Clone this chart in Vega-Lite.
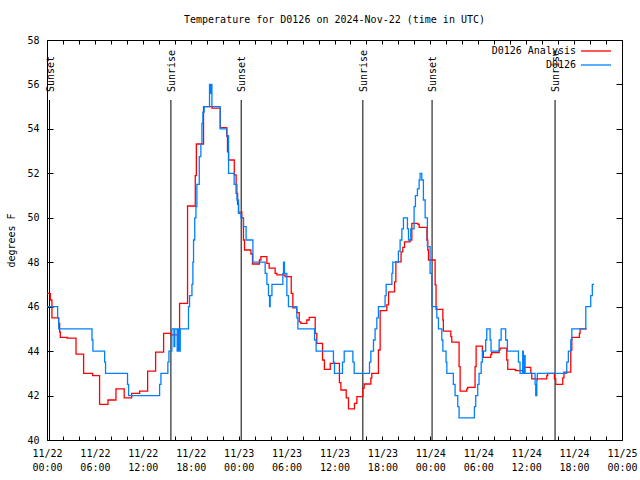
{
  "$schema": "https://vega.github.io/schema/vega-lite/v6.json",
  "width": 575,
  "height": 400,
  "autosize": {"type": "none"},
  "padding": {"left": 47, "top": 40, "right": 18, "bottom": 40},
  "background": "white",
  "title": {"text": "Temperature for D0126 on 2024-Nov-22 (time in UTC)", "font": "DejaVu Sans Mono", "fontSize": 10, "fontWeight": "normal", "color": "black", "offset": 10},
  "config": {
    "view": {"stroke": "black", "strokeWidth": 1},
    "axis": {"domain": false, "grid": false, "labelFont": "DejaVu Sans Mono", "labelFontSize": 10, "labelColor": "black", "tickColor": "black", "tickWidth": 1, "titleFont": "DejaVu Sans Mono", "titleFontSize": 10, "titleFontWeight": "normal", "titleColor": "black"}
  },
  "datasets": {
    "sun": [
      {"t": "2024-11-22T00:19:00Z", "label": "Sunset"},
      {"t": "2024-11-22T15:31:00Z", "label": "Sunrise"},
      {"t": "2024-11-23T00:19:00Z", "label": "Sunset"},
      {"t": "2024-11-23T15:33:00Z", "label": "Sunrise"},
      {"t": "2024-11-24T00:13:00Z", "label": "Sunset"},
      {"t": "2024-11-24T15:37:00Z", "label": "Sunrise"}
    ],
    "temps": [
      {"t": "2024-11-22T00:00:00Z", "v": 46.6, "s": "D0126 Analysis"},
      {"t": "2024-11-22T00:25:00Z", "v": 46.3, "s": "D0126 Analysis"},
      {"t": "2024-11-22T00:37:00Z", "v": 45.5, "s": "D0126 Analysis"},
      {"t": "2024-11-22T01:27:00Z", "v": 45.25, "s": "D0126 Analysis"},
      {"t": "2024-11-22T01:35:00Z", "v": 44.85, "s": "D0126 Analysis"},
      {"t": "2024-11-22T01:40:00Z", "v": 44.62, "s": "D0126 Analysis"},
      {"t": "2024-11-22T02:30:00Z", "v": 44.58, "s": "D0126 Analysis"},
      {"t": "2024-11-22T03:38:00Z", "v": 43.86, "s": "D0126 Analysis"},
      {"t": "2024-11-22T04:35:00Z", "v": 43.0, "s": "D0126 Analysis"},
      {"t": "2024-11-22T05:43:00Z", "v": 42.9, "s": "D0126 Analysis"},
      {"t": "2024-11-22T06:35:00Z", "v": 41.6, "s": "D0126 Analysis"},
      {"t": "2024-11-22T07:38:00Z", "v": 41.8, "s": "D0126 Analysis"},
      {"t": "2024-11-22T08:38:00Z", "v": 42.3, "s": "D0126 Analysis"},
      {"t": "2024-11-22T09:40:00Z", "v": 41.9, "s": "D0126 Analysis"},
      {"t": "2024-11-22T10:36:00Z", "v": 42.1, "s": "D0126 Analysis"},
      {"t": "2024-11-22T11:36:00Z", "v": 42.2, "s": "D0126 Analysis"},
      {"t": "2024-11-22T12:36:00Z", "v": 43.1, "s": "D0126 Analysis"},
      {"t": "2024-11-22T13:36:00Z", "v": 43.95, "s": "D0126 Analysis"},
      {"t": "2024-11-22T14:36:00Z", "v": 44.8, "s": "D0126 Analysis"},
      {"t": "2024-11-22T15:30:00Z", "v": 44.73, "s": "D0126 Analysis"},
      {"t": "2024-11-22T16:36:00Z", "v": 46.15, "s": "D0126 Analysis"},
      {"t": "2024-11-22T17:36:00Z", "v": 50.53, "s": "D0126 Analysis"},
      {"t": "2024-11-22T18:34:00Z", "v": 51.9, "s": "D0126 Analysis"},
      {"t": "2024-11-22T18:42:00Z", "v": 53.32, "s": "D0126 Analysis"},
      {"t": "2024-11-22T19:36:00Z", "v": 55.0, "s": "D0126 Analysis"},
      {"t": "2024-11-22T20:39:00Z", "v": 54.93, "s": "D0126 Analysis"},
      {"t": "2024-11-22T21:42:00Z", "v": 54.06, "s": "D0126 Analysis"},
      {"t": "2024-11-22T22:30:00Z", "v": 53.68, "s": "D0126 Analysis"},
      {"t": "2024-11-22T22:36:00Z", "v": 52.97, "s": "D0126 Analysis"},
      {"t": "2024-11-22T22:44:00Z", "v": 52.6, "s": "D0126 Analysis"},
      {"t": "2024-11-22T23:27:00Z", "v": 51.93, "s": "D0126 Analysis"},
      {"t": "2024-11-22T23:41:00Z", "v": 51.1, "s": "D0126 Analysis"},
      {"t": "2024-11-22T23:52:00Z", "v": 50.6, "s": "D0126 Analysis"},
      {"t": "2024-11-22T23:59:00Z", "v": 50.25, "s": "D0126 Analysis"},
      {"t": "2024-11-23T00:24:00Z", "v": 50.0, "s": "D0126 Analysis"},
      {"t": "2024-11-23T00:36:00Z", "v": 49.0, "s": "D0126 Analysis"},
      {"t": "2024-11-23T00:44:00Z", "v": 48.55, "s": "D0126 Analysis"},
      {"t": "2024-11-23T01:32:00Z", "v": 48.37, "s": "D0126 Analysis"},
      {"t": "2024-11-23T01:44:00Z", "v": 47.92, "s": "D0126 Analysis"},
      {"t": "2024-11-23T02:36:00Z", "v": 48.1, "s": "D0126 Analysis"},
      {"t": "2024-11-23T02:47:00Z", "v": 48.25, "s": "D0126 Analysis"},
      {"t": "2024-11-23T03:32:00Z", "v": 47.95, "s": "D0126 Analysis"},
      {"t": "2024-11-23T03:49:00Z", "v": 47.73, "s": "D0126 Analysis"},
      {"t": "2024-11-23T04:34:00Z", "v": 47.5, "s": "D0126 Analysis"},
      {"t": "2024-11-23T04:47:00Z", "v": 47.43, "s": "D0126 Analysis"},
      {"t": "2024-11-23T05:49:00Z", "v": 47.35, "s": "D0126 Analysis"},
      {"t": "2024-11-23T06:35:00Z", "v": 46.6, "s": "D0126 Analysis"},
      {"t": "2024-11-23T06:47:00Z", "v": 45.95, "s": "D0126 Analysis"},
      {"t": "2024-11-23T07:17:00Z", "v": 45.73, "s": "D0126 Analysis"},
      {"t": "2024-11-23T07:35:00Z", "v": 45.32, "s": "D0126 Analysis"},
      {"t": "2024-11-23T07:47:00Z", "v": 45.25, "s": "D0126 Analysis"},
      {"t": "2024-11-23T08:32:00Z", "v": 45.4, "s": "D0126 Analysis"},
      {"t": "2024-11-23T08:50:00Z", "v": 45.52, "s": "D0126 Analysis"},
      {"t": "2024-11-23T09:35:00Z", "v": 44.8, "s": "D0126 Analysis"},
      {"t": "2024-11-23T09:47:00Z", "v": 44.35, "s": "D0126 Analysis"},
      {"t": "2024-11-23T10:30:00Z", "v": 43.6, "s": "D0126 Analysis"},
      {"t": "2024-11-23T10:44:00Z", "v": 43.18, "s": "D0126 Analysis"},
      {"t": "2024-11-23T11:28:00Z", "v": 43.45, "s": "D0126 Analysis"},
      {"t": "2024-11-23T12:37:00Z", "v": 42.58, "s": "D0126 Analysis"},
      {"t": "2024-11-23T12:48:00Z", "v": 42.25, "s": "D0126 Analysis"},
      {"t": "2024-11-23T13:28:00Z", "v": 41.9, "s": "D0126 Analysis"},
      {"t": "2024-11-23T13:45:00Z", "v": 41.4, "s": "D0126 Analysis"},
      {"t": "2024-11-23T14:30:00Z", "v": 41.65, "s": "D0126 Analysis"},
      {"t": "2024-11-23T14:48:00Z", "v": 41.95, "s": "D0126 Analysis"},
      {"t": "2024-11-23T15:33:00Z", "v": 42.33, "s": "D0126 Analysis"},
      {"t": "2024-11-23T15:43:00Z", "v": 42.52, "s": "D0126 Analysis"},
      {"t": "2024-11-23T16:33:00Z", "v": 42.78, "s": "D0126 Analysis"},
      {"t": "2024-11-23T16:40:00Z", "v": 43.0, "s": "D0126 Analysis"},
      {"t": "2024-11-23T17:30:00Z", "v": 44.05, "s": "D0126 Analysis"},
      {"t": "2024-11-23T17:43:00Z", "v": 45.82, "s": "D0126 Analysis"},
      {"t": "2024-11-23T18:33:00Z", "v": 46.08, "s": "D0126 Analysis"},
      {"t": "2024-11-23T18:46:00Z", "v": 46.67, "s": "D0126 Analysis"},
      {"t": "2024-11-23T19:31:00Z", "v": 47.12, "s": "D0126 Analysis"},
      {"t": "2024-11-23T19:41:00Z", "v": 48.02, "s": "D0126 Analysis"},
      {"t": "2024-11-23T20:20:00Z", "v": 48.47, "s": "D0126 Analysis"},
      {"t": "2024-11-23T20:33:00Z", "v": 48.67, "s": "D0126 Analysis"},
      {"t": "2024-11-23T20:46:00Z", "v": 48.92, "s": "D0126 Analysis"},
      {"t": "2024-11-23T21:28:00Z", "v": 49.0, "s": "D0126 Analysis"},
      {"t": "2024-11-23T21:41:00Z", "v": 49.75, "s": "D0126 Analysis"},
      {"t": "2024-11-23T22:26:00Z", "v": 49.7, "s": "D0126 Analysis"},
      {"t": "2024-11-23T22:36:00Z", "v": 49.57, "s": "D0126 Analysis"},
      {"t": "2024-11-23T23:34:00Z", "v": 49.0, "s": "D0126 Analysis"},
      {"t": "2024-11-23T23:41:00Z", "v": 48.55, "s": "D0126 Analysis"},
      {"t": "2024-11-23T23:46:00Z", "v": 48.1, "s": "D0126 Analysis"},
      {"t": "2024-11-24T00:36:00Z", "v": 46.98, "s": "D0126 Analysis"},
      {"t": "2024-11-24T00:43:00Z", "v": 45.88, "s": "D0126 Analysis"},
      {"t": "2024-11-24T01:34:00Z", "v": 45.4, "s": "D0126 Analysis"},
      {"t": "2024-11-24T01:38:00Z", "v": 44.9, "s": "D0126 Analysis"},
      {"t": "2024-11-24T02:34:00Z", "v": 44.65, "s": "D0126 Analysis"},
      {"t": "2024-11-24T02:41:00Z", "v": 44.4, "s": "D0126 Analysis"},
      {"t": "2024-11-24T03:36:00Z", "v": 43.3, "s": "D0126 Analysis"},
      {"t": "2024-11-24T03:44:00Z", "v": 42.2, "s": "D0126 Analysis"},
      {"t": "2024-11-24T04:34:00Z", "v": 42.3, "s": "D0126 Analysis"},
      {"t": "2024-11-24T04:41:00Z", "v": 42.37, "s": "D0126 Analysis"},
      {"t": "2024-11-24T05:36:00Z", "v": 43.3, "s": "D0126 Analysis"},
      {"t": "2024-11-24T05:44:00Z", "v": 44.22, "s": "D0126 Analysis"},
      {"t": "2024-11-24T06:31:00Z", "v": 44.0, "s": "D0126 Analysis"},
      {"t": "2024-11-24T06:38:00Z", "v": 43.72, "s": "D0126 Analysis"},
      {"t": "2024-11-24T07:34:00Z", "v": 43.85, "s": "D0126 Analysis"},
      {"t": "2024-11-24T07:41:00Z", "v": 43.93, "s": "D0126 Analysis"},
      {"t": "2024-11-24T08:37:00Z", "v": 44.05, "s": "D0126 Analysis"},
      {"t": "2024-11-24T08:44:00Z", "v": 44.13, "s": "D0126 Analysis"},
      {"t": "2024-11-24T09:34:00Z", "v": 43.6, "s": "D0126 Analysis"},
      {"t": "2024-11-24T09:42:00Z", "v": 43.18, "s": "D0126 Analysis"},
      {"t": "2024-11-24T10:37:00Z", "v": 43.15, "s": "D0126 Analysis"},
      {"t": "2024-11-24T10:44:00Z", "v": 43.12, "s": "D0126 Analysis"},
      {"t": "2024-11-24T11:39:00Z", "v": 43.2, "s": "D0126 Analysis"},
      {"t": "2024-11-24T11:44:00Z", "v": 43.27, "s": "D0126 Analysis"},
      {"t": "2024-11-24T12:35:00Z", "v": 43.0, "s": "D0126 Analysis"},
      {"t": "2024-11-24T12:42:00Z", "v": 42.75, "s": "D0126 Analysis"},
      {"t": "2024-11-24T14:35:00Z", "v": 42.9, "s": "D0126 Analysis"},
      {"t": "2024-11-24T14:42:00Z", "v": 43.0, "s": "D0126 Analysis"},
      {"t": "2024-11-24T15:32:00Z", "v": 42.75, "s": "D0126 Analysis"},
      {"t": "2024-11-24T15:42:00Z", "v": 42.5, "s": "D0126 Analysis"},
      {"t": "2024-11-24T16:35:00Z", "v": 42.8, "s": "D0126 Analysis"},
      {"t": "2024-11-24T16:44:00Z", "v": 43.05, "s": "D0126 Analysis"},
      {"t": "2024-11-24T17:35:00Z", "v": 44.05, "s": "D0126 Analysis"},
      {"t": "2024-11-24T17:43:00Z", "v": 44.62, "s": "D0126 Analysis"},
      {"t": "2024-11-24T18:40:00Z", "v": 44.8, "s": "D0126 Analysis"},
      {"t": "2024-11-24T18:45:00Z", "v": 45.0, "s": "D0126 Analysis"},
      {"t": "2024-11-24T19:35:00Z", "v": 45.0, "s": "D0126 Analysis"},
      {"t": "2024-11-22T00:00:00Z", "v": 46.0, "s": "D0126"},
      {"t": "2024-11-22T01:20:00Z", "v": 45.5, "s": "D0126"},
      {"t": "2024-11-22T01:28:00Z", "v": 45.0, "s": "D0126"},
      {"t": "2024-11-22T05:38:00Z", "v": 44.5, "s": "D0126"},
      {"t": "2024-11-22T05:45:00Z", "v": 44.0, "s": "D0126"},
      {"t": "2024-11-22T07:13:00Z", "v": 43.5, "s": "D0126"},
      {"t": "2024-11-22T07:20:00Z", "v": 43.0, "s": "D0126"},
      {"t": "2024-11-22T10:05:00Z", "v": 42.5, "s": "D0126"},
      {"t": "2024-11-22T10:13:00Z", "v": 42.0, "s": "D0126"},
      {"t": "2024-11-22T14:06:00Z", "v": 42.5, "s": "D0126"},
      {"t": "2024-11-22T14:16:00Z", "v": 43.0, "s": "D0126"},
      {"t": "2024-11-22T15:08:00Z", "v": 43.5, "s": "D0126"},
      {"t": "2024-11-22T15:16:00Z", "v": 44.0, "s": "D0126"},
      {"t": "2024-11-22T15:38:00Z", "v": 45.0, "s": "D0126"},
      {"t": "2024-11-22T15:54:00Z", "v": 44.2, "s": "D0126"},
      {"t": "2024-11-22T16:00:00Z", "v": 45.0, "s": "D0126"},
      {"t": "2024-11-22T16:18:00Z", "v": 44.0, "s": "D0126"},
      {"t": "2024-11-22T16:27:00Z", "v": 45.0, "s": "D0126"},
      {"t": "2024-11-22T16:36:00Z", "v": 44.0, "s": "D0126"},
      {"t": "2024-11-22T16:41:00Z", "v": 45.0, "s": "D0126"},
      {"t": "2024-11-22T17:43:00Z", "v": 46.0, "s": "D0126"},
      {"t": "2024-11-22T17:51:00Z", "v": 46.5, "s": "D0126"},
      {"t": "2024-11-22T18:09:00Z", "v": 47.0, "s": "D0126"},
      {"t": "2024-11-22T18:16:00Z", "v": 48.0, "s": "D0126"},
      {"t": "2024-11-22T18:21:00Z", "v": 49.0, "s": "D0126"},
      {"t": "2024-11-22T18:30:00Z", "v": 50.0, "s": "D0126"},
      {"t": "2024-11-22T18:39:00Z", "v": 50.5, "s": "D0126"},
      {"t": "2024-11-22T18:46:00Z", "v": 51.5, "s": "D0126"},
      {"t": "2024-11-22T19:04:00Z", "v": 52.75, "s": "D0126"},
      {"t": "2024-11-22T19:16:00Z", "v": 53.3, "s": "D0126"},
      {"t": "2024-11-22T19:24:00Z", "v": 54.25, "s": "D0126"},
      {"t": "2024-11-22T19:31:00Z", "v": 54.75, "s": "D0126"},
      {"t": "2024-11-22T19:41:00Z", "v": 55.0, "s": "D0126"},
      {"t": "2024-11-22T20:21:00Z", "v": 56.0, "s": "D0126"},
      {"t": "2024-11-22T20:27:00Z", "v": 55.6, "s": "D0126"},
      {"t": "2024-11-22T20:30:00Z", "v": 56.0, "s": "D0126"},
      {"t": "2024-11-22T20:39:00Z", "v": 55.0, "s": "D0126"},
      {"t": "2024-11-22T21:41:00Z", "v": 54.0, "s": "D0126"},
      {"t": "2024-11-22T22:32:00Z", "v": 53.7, "s": "D0126"},
      {"t": "2024-11-22T22:44:00Z", "v": 52.0, "s": "D0126"},
      {"t": "2024-11-22T23:26:00Z", "v": 51.5, "s": "D0126"},
      {"t": "2024-11-22T23:47:00Z", "v": 50.8, "s": "D0126"},
      {"t": "2024-11-22T23:59:00Z", "v": 50.2, "s": "D0126"},
      {"t": "2024-11-23T00:17:00Z", "v": 50.0, "s": "D0126"},
      {"t": "2024-11-23T00:36:00Z", "v": 49.6, "s": "D0126"},
      {"t": "2024-11-23T00:56:00Z", "v": 49.0, "s": "D0126"},
      {"t": "2024-11-23T01:47:00Z", "v": 48.0, "s": "D0126"},
      {"t": "2024-11-23T03:19:00Z", "v": 47.5, "s": "D0126"},
      {"t": "2024-11-23T03:32:00Z", "v": 47.0, "s": "D0126"},
      {"t": "2024-11-23T03:44:00Z", "v": 46.5, "s": "D0126"},
      {"t": "2024-11-23T03:52:00Z", "v": 46.0, "s": "D0126"},
      {"t": "2024-11-23T03:57:00Z", "v": 46.5, "s": "D0126"},
      {"t": "2024-11-23T04:10:00Z", "v": 47.0, "s": "D0126"},
      {"t": "2024-11-23T05:32:00Z", "v": 47.5, "s": "D0126"},
      {"t": "2024-11-23T05:37:00Z", "v": 48.0, "s": "D0126"},
      {"t": "2024-11-23T05:44:00Z", "v": 47.5, "s": "D0126"},
      {"t": "2024-11-23T06:02:00Z", "v": 46.5, "s": "D0126"},
      {"t": "2024-11-23T06:14:00Z", "v": 46.0, "s": "D0126"},
      {"t": "2024-11-23T07:17:00Z", "v": 45.5, "s": "D0126"},
      {"t": "2024-11-23T07:25:00Z", "v": 45.0, "s": "D0126"},
      {"t": "2024-11-23T09:30:00Z", "v": 44.5, "s": "D0126"},
      {"t": "2024-11-23T09:42:00Z", "v": 44.0, "s": "D0126"},
      {"t": "2024-11-23T11:52:00Z", "v": 43.5, "s": "D0126"},
      {"t": "2024-11-23T12:00:00Z", "v": 43.0, "s": "D0126"},
      {"t": "2024-11-23T13:00:00Z", "v": 43.5, "s": "D0126"},
      {"t": "2024-11-23T13:13:00Z", "v": 44.0, "s": "D0126"},
      {"t": "2024-11-23T14:18:00Z", "v": 43.5, "s": "D0126"},
      {"t": "2024-11-23T14:28:00Z", "v": 43.0, "s": "D0126"},
      {"t": "2024-11-23T16:23:00Z", "v": 43.5, "s": "D0126"},
      {"t": "2024-11-23T16:33:00Z", "v": 44.0, "s": "D0126"},
      {"t": "2024-11-23T16:53:00Z", "v": 44.5, "s": "D0126"},
      {"t": "2024-11-23T17:05:00Z", "v": 45.0, "s": "D0126"},
      {"t": "2024-11-23T17:18:00Z", "v": 45.5, "s": "D0126"},
      {"t": "2024-11-23T17:30:00Z", "v": 46.0, "s": "D0126"},
      {"t": "2024-11-23T18:20:00Z", "v": 46.5, "s": "D0126"},
      {"t": "2024-11-23T18:28:00Z", "v": 47.0, "s": "D0126"},
      {"t": "2024-11-23T19:11:00Z", "v": 47.5, "s": "D0126"},
      {"t": "2024-11-23T19:18:00Z", "v": 48.0, "s": "D0126"},
      {"t": "2024-11-23T20:00:00Z", "v": 48.5, "s": "D0126"},
      {"t": "2024-11-23T20:13:00Z", "v": 49.0, "s": "D0126"},
      {"t": "2024-11-23T20:26:00Z", "v": 49.5, "s": "D0126"},
      {"t": "2024-11-23T20:38:00Z", "v": 50.0, "s": "D0126"},
      {"t": "2024-11-23T21:08:00Z", "v": 49.5, "s": "D0126"},
      {"t": "2024-11-23T21:16:00Z", "v": 49.0, "s": "D0126"},
      {"t": "2024-11-23T21:33:00Z", "v": 49.5, "s": "D0126"},
      {"t": "2024-11-23T21:58:00Z", "v": 50.5, "s": "D0126"},
      {"t": "2024-11-23T22:08:00Z", "v": 51.0, "s": "D0126"},
      {"t": "2024-11-23T22:23:00Z", "v": 51.3, "s": "D0126"},
      {"t": "2024-11-23T22:36:00Z", "v": 51.7, "s": "D0126"},
      {"t": "2024-11-23T22:43:00Z", "v": 52.0, "s": "D0126"},
      {"t": "2024-11-23T22:56:00Z", "v": 51.7, "s": "D0126"},
      {"t": "2024-11-23T23:08:00Z", "v": 50.8, "s": "D0126"},
      {"t": "2024-11-23T23:21:00Z", "v": 50.0, "s": "D0126"},
      {"t": "2024-11-23T23:38:00Z", "v": 48.7, "s": "D0126"},
      {"t": "2024-11-23T23:58:00Z", "v": 47.5, "s": "D0126"},
      {"t": "2024-11-24T00:11:00Z", "v": 46.0, "s": "D0126"},
      {"t": "2024-11-24T00:49:00Z", "v": 45.5, "s": "D0126"},
      {"t": "2024-11-24T01:01:00Z", "v": 45.0, "s": "D0126"},
      {"t": "2024-11-24T01:26:00Z", "v": 44.5, "s": "D0126"},
      {"t": "2024-11-24T01:34:00Z", "v": 44.0, "s": "D0126"},
      {"t": "2024-11-24T01:58:00Z", "v": 43.5, "s": "D0126"},
      {"t": "2024-11-24T02:04:00Z", "v": 43.0, "s": "D0126"},
      {"t": "2024-11-24T02:53:00Z", "v": 42.5, "s": "D0126"},
      {"t": "2024-11-24T03:06:00Z", "v": 42.0, "s": "D0126"},
      {"t": "2024-11-24T03:26:00Z", "v": 41.5, "s": "D0126"},
      {"t": "2024-11-24T03:36:00Z", "v": 41.0, "s": "D0126"},
      {"t": "2024-11-24T05:31:00Z", "v": 41.5, "s": "D0126"},
      {"t": "2024-11-24T05:41:00Z", "v": 42.0, "s": "D0126"},
      {"t": "2024-11-24T05:56:00Z", "v": 42.5, "s": "D0126"},
      {"t": "2024-11-24T06:06:00Z", "v": 43.0, "s": "D0126"},
      {"t": "2024-11-24T06:22:00Z", "v": 43.5, "s": "D0126"},
      {"t": "2024-11-24T06:31:00Z", "v": 44.0, "s": "D0126"},
      {"t": "2024-11-24T06:56:00Z", "v": 44.5, "s": "D0126"},
      {"t": "2024-11-24T07:04:00Z", "v": 45.0, "s": "D0126"},
      {"t": "2024-11-24T07:29:00Z", "v": 44.5, "s": "D0126"},
      {"t": "2024-11-24T07:36:00Z", "v": 44.0, "s": "D0126"},
      {"t": "2024-11-24T08:37:00Z", "v": 44.5, "s": "D0126"},
      {"t": "2024-11-24T08:52:00Z", "v": 45.0, "s": "D0126"},
      {"t": "2024-11-24T09:26:00Z", "v": 44.5, "s": "D0126"},
      {"t": "2024-11-24T09:39:00Z", "v": 44.0, "s": "D0126"},
      {"t": "2024-11-24T11:02:00Z", "v": 43.5, "s": "D0126"},
      {"t": "2024-11-24T11:14:00Z", "v": 43.0, "s": "D0126"},
      {"t": "2024-11-24T11:34:00Z", "v": 44.0, "s": "D0126"},
      {"t": "2024-11-24T11:39:00Z", "v": 43.0, "s": "D0126"},
      {"t": "2024-11-24T11:44:00Z", "v": 43.8, "s": "D0126"},
      {"t": "2024-11-24T11:52:00Z", "v": 43.0, "s": "D0126"},
      {"t": "2024-11-24T13:07:00Z", "v": 42.5, "s": "D0126"},
      {"t": "2024-11-24T13:12:00Z", "v": 42.0, "s": "D0126"},
      {"t": "2024-11-24T13:20:00Z", "v": 42.7, "s": "D0126"},
      {"t": "2024-11-24T13:24:00Z", "v": 43.0, "s": "D0126"},
      {"t": "2024-11-24T17:05:00Z", "v": 43.5, "s": "D0126"},
      {"t": "2024-11-24T17:17:00Z", "v": 44.0, "s": "D0126"},
      {"t": "2024-11-24T17:35:00Z", "v": 44.5, "s": "D0126"},
      {"t": "2024-11-24T17:43:00Z", "v": 45.0, "s": "D0126"},
      {"t": "2024-11-24T19:28:00Z", "v": 46.0, "s": "D0126"},
      {"t": "2024-11-24T20:05:00Z", "v": 46.5, "s": "D0126"},
      {"t": "2024-11-24T20:17:00Z", "v": 47.0, "s": "D0126"},
      {"t": "2024-11-24T20:30:00Z", "v": 47.0, "s": "D0126"}
    ]
  },
  "layer": [
    {
      "data": {"name": "sun"},
      "mark": {"type": "rule", "color": "black", "strokeWidth": 1},
      "encoding": {
        "x": {"field": "t", "type": "temporal",
              "scale": {"type": "utc", "nice": false, "domain": [1732233600000, 1732492800000]},
              "axis": {"orient": "top", "labels": false, "title": null, "tickSize": -4,
                       "values": [1732233600000, 1732240800000, 1732248000000, 1732255200000, 1732262400000, 1732269600000, 1732276800000, 1732284000000, 1732291200000, 1732298400000, 1732305600000, 1732312800000, 1732320000000, 1732327200000, 1732334400000, 1732341600000, 1732348800000, 1732356000000, 1732363200000, 1732370400000, 1732377600000, 1732384800000, 1732392000000, 1732399200000, 1732406400000, 1732413600000, 1732420800000, 1732428000000, 1732435200000, 1732442400000, 1732449600000, 1732456800000, 1732464000000, 1732471200000, 1732478400000, 1732485600000, 1732492800000]}},
        "y": {"datum": 55.3, "type": "quantitative",
              "scale": {"domain": [40, 58], "nice": false, "zero": false},
              "axis": {"orient": "right", "labels": false, "title": null, "values": [40, 42, 44, 46, 48, 50, 52, 54, 56, 58], "tickSize": -6}},
        "y2": {"datum": 40}
      }
    },
    {
      "data": {"name": "sun"},
      "mark": {"type": "text", "angle": 270, "align": "left", "baseline": "middle", "dx": 8, "dy": 1, "font": "DejaVu Sans Mono", "fontSize": 10, "color": "black"},
      "encoding": {
        "x": {"field": "t", "type": "temporal", "axis": null},
        "y": {"datum": 55.3, "type": "quantitative", "axis": null},
        "text": {"field": "label"}
      }
    },
    {
      "data": {"name": "temps"},
      "mark": {"type": "line", "interpolate": "step-after", "strokeWidth": 1.3},
      "encoding": {
        "x": {"field": "t", "type": "temporal",
              "axis": {"orient": "bottom", "title": null, "tickSize": -4,
                       "values": [1732233600000, 1732240800000, 1732248000000, 1732255200000, 1732262400000, 1732269600000, 1732276800000, 1732284000000, 1732291200000, 1732298400000, 1732305600000, 1732312800000, 1732320000000, 1732327200000, 1732334400000, 1732341600000, 1732348800000, 1732356000000, 1732363200000, 1732370400000, 1732377600000, 1732384800000, 1732392000000, 1732399200000, 1732406400000, 1732413600000, 1732420800000, 1732428000000, 1732435200000, 1732442400000, 1732449600000, 1732456800000, 1732464000000, 1732471200000, 1732478400000, 1732485600000, 1732492800000],
                       "labelExpr": "utchours(datum.value) % 6 == 0 ? [utcFormat(datum.value, '%m/%d'), utcFormat(datum.value, '%H:%M')] : ''",
                       "labelPadding": 12, "labelOverlap": false, "labelFlush": false, "labelBound": false, "labelLineHeight": 14}},
        "y": {"field": "v", "type": "quantitative",
              "axis": {"orient": "left", "title": "degrees F", "values": [40, 42, 44, 46, 48, 50, 52, 54, 56, 58], "tickSize": -6, "labelPadding": 14, "titlePadding": 10}},
        "color": {"field": "s", "type": "nominal",
                  "scale": {"domain": ["D0126 Analysis", "D0126"], "range": ["#ff0000", "#0080ff"]},
                  "legend": {"orient": "none", "legendX": 543, "legendY": 5, "title": null, "symbolType": "M-3,0H3", "symbolSize": 100, "symbolStrokeWidth": 1.3, "labelAlign": "right", "labelOffset": -26, "labelFont": "DejaVu Sans Mono", "labelFontSize": 10, "labelColor": "black", "rowPadding": 3, "padding": 0}}
      }
    }
  ],
  "resolve": {"axis": {"x": "independent", "y": "independent"}}
}
